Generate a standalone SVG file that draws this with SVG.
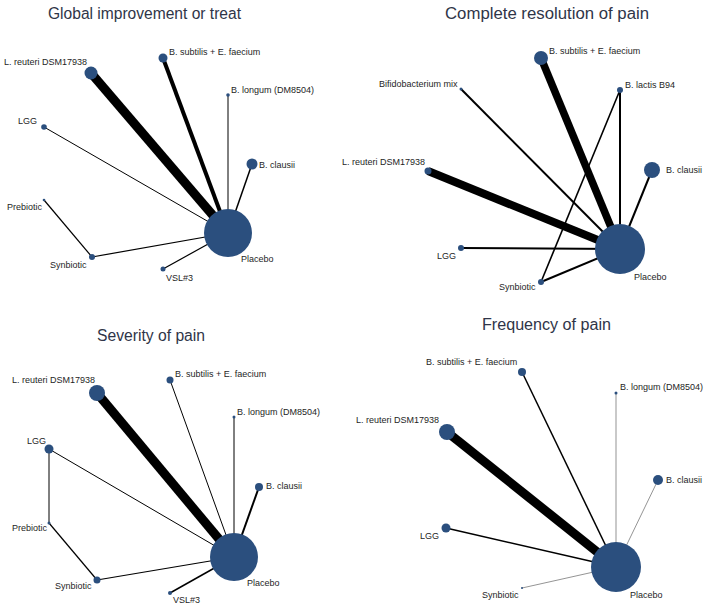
<svg xmlns="http://www.w3.org/2000/svg" width="708" height="607" viewBox="0 0 708 607">
<style>
.bg{fill:#ffffff}
.title{font-family:"Liberation Sans",Arial,sans-serif;font-size:16px;fill:#2f3548}
.lbl{font-family:"Liberation Sans",Arial,sans-serif;font-size:9px;fill:#1e1e1e}
.node{fill:#2b4f7e}
.e{stroke:#000;stroke-linecap:butt;fill:none}
.thin{stroke:#666;stroke-width:0.7}
</style>
<rect class="bg" width="708" height="607"/>

<text class="title" x="48" y="19" textLength="193" lengthAdjust="spacingAndGlyphs">Global improvement or treat</text>
<text class="title" x="445" y="19" textLength="204" lengthAdjust="spacingAndGlyphs">Complete resolution of pain</text>
<text class="title" x="97" y="341" textLength="108" lengthAdjust="spacingAndGlyphs">Severity of pain</text>
<text class="title" x="482" y="330" textLength="129" lengthAdjust="spacingAndGlyphs">Frequency of pain</text>

<g id="connectors">
  <g id="edges-global">
    <line class="e" x1="91" y1="73" x2="228" y2="233" stroke-width="9"/>
    <line class="e" x1="163" y1="58" x2="228" y2="233" stroke-width="4"/>
    <line class="e" x1="228" y1="95" x2="228" y2="233" stroke-width="1"/>
    <line class="e" x1="44" y1="127" x2="228" y2="233" stroke-width="1"/>
    <line class="e" x1="252" y1="164" x2="228" y2="233" stroke-width="1.5"/>
    <line class="e" x1="44" y1="200" x2="92" y2="257" stroke-width="1.2"/>
    <line class="e" x1="92" y1="257" x2="228" y2="233" stroke-width="1.2"/>
    <line class="e" x1="163" y1="269" x2="228" y2="233" stroke-width="1.2"/>
  </g>
  <g id="edges-resolution">
    <line class="e" x1="541" y1="58" x2="620" y2="249" stroke-width="7.5"/>
    <line class="e" x1="461" y1="89" x2="620" y2="249" stroke-width="2"/>
    <line class="e" x1="620" y1="90" x2="620" y2="249" stroke-width="2"/>
    <line class="e" x1="620" y1="90" x2="541" y2="282" stroke-width="1.6"/>
    <line class="e" x1="428" y1="171" x2="620" y2="249" stroke-width="8"/>
    <line class="e" x1="652" y1="170" x2="620" y2="249" stroke-width="2"/>
    <line class="e" x1="461" y1="248" x2="620" y2="249" stroke-width="2"/>
    <line class="e" x1="541" y1="282" x2="620" y2="249" stroke-width="2"/>
  </g>
  <g id="edges-severity">
    <line class="e" x1="97" y1="393" x2="234" y2="557" stroke-width="9"/>
    <line class="e" x1="170" y1="380" x2="234" y2="557" stroke-width="1"/>
    <line class="e" x1="234" y1="417" x2="234" y2="557" stroke-width="1"/>
    <line class="e" x1="49" y1="449" x2="234" y2="557" stroke-width="1"/>
    <line class="e" x1="49" y1="449" x2="49" y2="523" stroke-width="1"/>
    <line class="e" x1="49" y1="523" x2="97" y2="580" stroke-width="1.2"/>
    <line class="e" x1="97" y1="580" x2="234" y2="557" stroke-width="1.2"/>
    <line class="e" x1="259" y1="487" x2="234" y2="557" stroke-width="2"/>
    <line class="e" x1="170" y1="593" x2="234" y2="557" stroke-width="1.5"/>
  </g>
  <g id="edges-frequency">
    <line class="e" x1="447" y1="432" x2="616" y2="567" stroke-width="9"/>
    <line class="e" x1="522" y1="372" x2="616" y2="567" stroke-width="1.5"/>
    <line class="e thin" x1="616" y1="393" x2="616" y2="567"/>
    <line class="e thin" x1="658" y1="480" x2="616" y2="567"/>
    <line class="e" x1="446" y1="528" x2="616" y2="567" stroke-width="1.5"/>
    <line class="e thin" x1="522" y1="588" x2="616" y2="567"/>
  </g>
</g>

<!-- Panel 1: Global improvement or treat -->
<g id="g1-placebo"><circle class="node" cx="228" cy="233" r="24"/><text class="lbl" x="241" y="262">Placebo</text></g>
<g id="g1-reuteri"><circle class="node" cx="91" cy="73" r="6.5"/><text class="lbl" x="87" y="65" text-anchor="end">L. reuteri DSM17938</text></g>
<g id="g1-subtilis"><circle class="node" cx="163" cy="58" r="4.5"/><text class="lbl" x="169" y="55">B. subtilis + E. faecium</text></g>
<g id="g1-longum"><circle class="node" cx="228" cy="95" r="1.8"/><text class="lbl" x="231" y="93">B. longum (DM8504)</text></g>
<g id="g1-lgg"><circle class="node" cx="44" cy="127" r="2.8"/><text class="lbl" x="18" y="124">LGG</text></g>
<g id="g1-clausii"><circle class="node" cx="252" cy="164" r="5.5"/><text class="lbl" x="259" y="168">B. clausii</text></g>
<g id="g1-prebiotic"><circle class="node" cx="44" cy="200" r="1.3"/><text class="lbl" x="7" y="210">Prebiotic</text></g>
<g id="g1-synbiotic"><circle class="node" cx="92" cy="257" r="3"/><text class="lbl" x="50" y="268">Synbiotic</text></g>
<g id="g1-vsl3"><circle class="node" cx="163" cy="269" r="2.5"/><text class="lbl" x="166" y="281">VSL#3</text></g>

<!-- Panel 2: Complete resolution of pain -->
<g id="g2-placebo"><circle class="node" cx="620" cy="249" r="25"/><text class="lbl" x="634" y="280">Placebo</text></g>
<g id="g2-subtilis"><circle class="node" cx="541" cy="58" r="7"/><text class="lbl" x="549" y="54">B. subtilis + E. faecium</text></g>
<g id="g2-bifido"><circle class="node" cx="461" cy="89" r="1.5"/><text class="lbl" x="379" y="87">Bifidobacterium mix</text></g>
<g id="g2-lactis"><circle class="node" cx="620" cy="90" r="3"/><text class="lbl" x="625" y="88">B. lactis B94</text></g>
<g id="g2-reuteri"><circle class="node" cx="428" cy="171" r="3.5"/><text class="lbl" x="342" y="165">L. reuteri DSM17938</text></g>
<g id="g2-clausii"><circle class="node" cx="652" cy="170" r="8"/><text class="lbl" x="666" y="173">B. clausii</text></g>
<g id="g2-lgg"><circle class="node" cx="461" cy="248" r="3"/><text class="lbl" x="437" y="259">LGG</text></g>
<g id="g2-synbiotic"><circle class="node" cx="541" cy="282" r="3"/><text class="lbl" x="499" y="290">Synbiotic</text></g>

<!-- Panel 3: Severity of pain -->
<g id="g3-placebo"><circle class="node" cx="234" cy="557" r="24"/><text class="lbl" x="247" y="586">Placebo</text></g>
<g id="g3-reuteri"><circle class="node" cx="97" cy="393" r="8"/><text class="lbl" x="12" y="383">L. reuteri DSM17938</text></g>
<g id="g3-subtilis"><circle class="node" cx="170" cy="380" r="3.5"/><text class="lbl" x="175" y="377">B. subtilis + E. faecium</text></g>
<g id="g3-longum"><circle class="node" cx="234" cy="417" r="1.5"/><text class="lbl" x="237" y="415">B. longum (DM8504)</text></g>
<g id="g3-lgg"><circle class="node" cx="49" cy="449" r="4.5"/><text class="lbl" x="27" y="444">LGG</text></g>
<g id="g3-clausii"><circle class="node" cx="259" cy="487" r="4"/><text class="lbl" x="266" y="489">B. clausii</text></g>
<g id="g3-prebiotic"><circle class="node" cx="49" cy="523" r="1.5"/><text class="lbl" x="12" y="531">Prebiotic</text></g>
<g id="g3-synbiotic"><circle class="node" cx="97" cy="580" r="3.5"/><text class="lbl" x="55" y="589">Synbiotic</text></g>
<g id="g3-vsl3"><circle class="node" cx="170" cy="593" r="2"/><text class="lbl" x="173" y="603">VSL#3</text></g>

<!-- Panel 4: Frequency of pain -->
<g id="g4-placebo"><circle class="node" cx="616" cy="567" r="25"/><text class="lbl" x="630" y="598">Placebo</text></g>
<g id="g4-subtilis"><circle class="node" cx="522" cy="372" r="4"/><text class="lbl" x="426" y="365">B. subtilis + E. faecium</text></g>
<g id="g4-longum"><circle class="node" cx="616" cy="393" r="1.5"/><text class="lbl" x="620" y="390">B. longum (DM8504)</text></g>
<g id="g4-reuteri"><circle class="node" cx="447" cy="432" r="8"/><text class="lbl" x="356" y="423">L. reuteri DSM17938</text></g>
<g id="g4-clausii"><circle class="node" cx="658" cy="480" r="5"/><text class="lbl" x="666" y="483">B. clausii</text></g>
<g id="g4-lgg"><circle class="node" cx="446" cy="528" r="4.5"/><text class="lbl" x="420" y="539">LGG</text></g>
<g id="g4-synbiotic"><circle class="node" cx="522" cy="588" r="1"/><text class="lbl" x="482" y="598">Synbiotic</text></g>
</svg>
